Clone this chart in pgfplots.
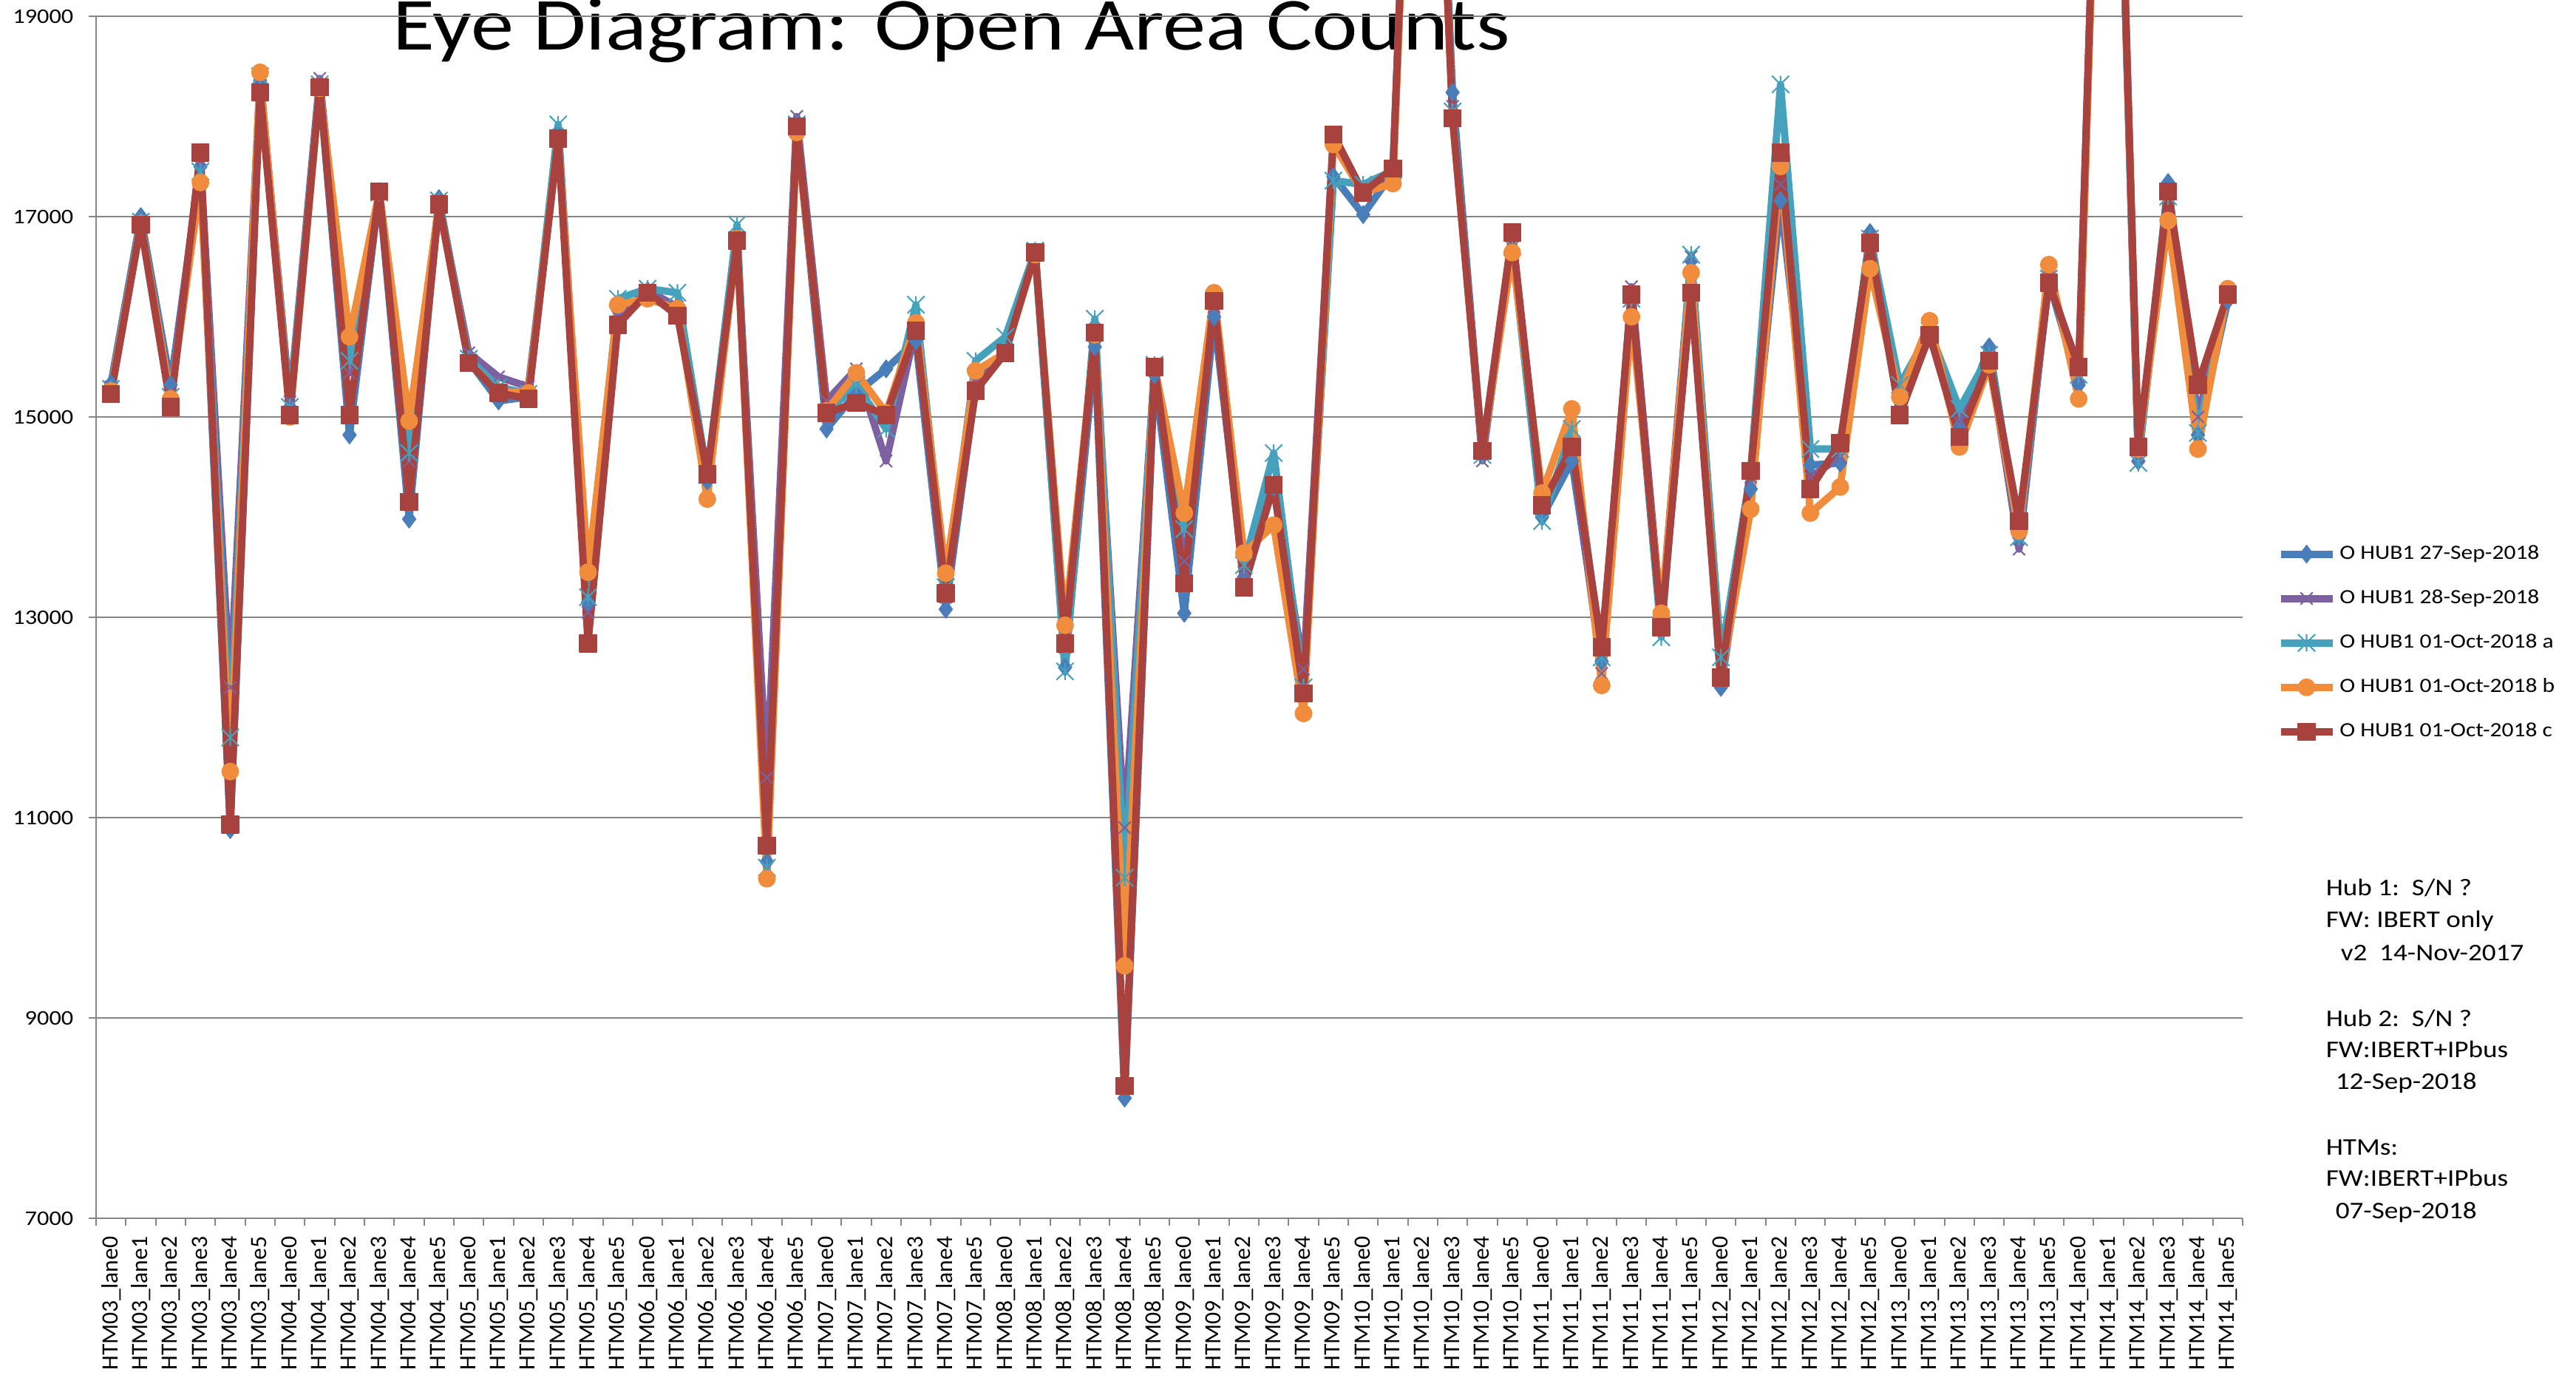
\documentclass[border=0pt]{standalone}
\usepackage{fontspec}
\setmainfont{Carlito}
\newfontfamily\wfont{Carlito}[FakeStretch=1.15]
\usepackage{pgfplots}
\usepackage{pgfplotstable}
\pgfplotsset{compat=1.18}

\definecolor{cBlue}{RGB}{74,126,187}
\definecolor{cPurple}{RGB}{125,96,160}
\definecolor{cTeal}{RGB}{70,162,188}
\definecolor{cOrange}{RGB}{240,140,60}
\definecolor{cRed}{RGB}{168,66,63}
\definecolor{cGrid}{RGB}{134,134,134}

\pgfdeclareplotmark{xstar}{%
  \pgfpathmoveto{\pgfqpoint{-\pgfplotmarksize}{-\pgfplotmarksize}}%
  \pgfpathlineto{\pgfqpoint{\pgfplotmarksize}{\pgfplotmarksize}}%
  \pgfpathmoveto{\pgfqpoint{-\pgfplotmarksize}{\pgfplotmarksize}}%
  \pgfpathlineto{\pgfqpoint{\pgfplotmarksize}{-\pgfplotmarksize}}%
  \pgfpathmoveto{\pgfqpoint{0pt}{-\pgfplotmarksize}}%
  \pgfpathlineto{\pgfqpoint{0pt}{\pgfplotmarksize}}%
  \pgfusepathqstroke}

\pgfplotstableread{
x b p t o r
0 15330 15300 15280 15260 15230
1 17000 16950 16950 16930 16920
2 15320 15250 15200 15180 15100
3 17500 17550 17450 17340 17640
4 10880 12300 11800 11460 10930
5 18360 18380 18400 18440 18240
6 15100 15150 15100 15000 15020
7 18300 18380 18320 18280 18290
8 14820 15440 15560 15800 15020
9 17250 17260 17240 17250 17250
10 13980 14560 14640 14960 14150
11 17180 17150 17160 17120 17120
12 15560 15640 15580 15540 15540
13 15160 15400 15300 15250 15240
14 15200 15300 15230 15240 15180
15 17820 17800 17920 17780 17780
16 13150 13050 13200 13450 12740
17 15960 16000 16180 16120 15920
18 16260 16260 16280 16180 16240
19 16060 16100 16240 16080 16010
20 14360 14400 14420 14180 14430
21 16800 16760 16920 16780 16760
22 10560 11400 10500 10390 10720
23 17900 18000 17920 17840 17900
24 14880 15160 15040 15060 15040
25 15240 15480 15320 15440 15140
26 15480 14560 14880 15040 15020
27 15760 15900 16120 15940 15860
28 13080 13200 13300 13440 13240
29 15300 15350 15560 15460 15260
30 15660 15660 15800 15640 15640
31 16650 16640 16660 16620 16640
32 12500 12700 12460 12920 12740
33 15700 15800 15980 15820 15840
34 8200 10900 10400 9520 8320
35 15420 15500 15520 15500 15500
36 13040 13560 13880 14040 13340
37 16000 16100 16180 16240 16160
38 13400 13450 13520 13640 13300
39 14300 14350 14640 13920 14320
40 12260 12480 12300 12040 12240
41 17400 17780 17360 17720 17820
42 17020 17200 17320 17240 17240
43 17440 17450 17460 17330 17480
44 25000 25000 25000 25000 25000
45 18240 18100 18050 17980 17980
46 14640 14560 14620 14660 14660
47 16820 16800 16700 16640 16840
48 14000 14100 13960 14240 14120
49 14560 14700 14880 15080 14700
50 12560 12440 12600 12320 12700
51 16200 16300 16180 16000 16220
52 12900 13000 12800 13040 12900
53 16560 16600 16620 16440 16240
54 12300 12400 12600 12400 12400
55 14280 14400 14460 14080 14460
56 17160 17320 18320 17500 17640
57 14520 14400 14680 14040 14280
58 14540 14600 14680 14300 14740
59 16840 16800 16780 16480 16740
60 15060 15100 15320 15200 15020
61 15820 15800 15860 15960 15820
62 14900 14950 15080 14700 14800
63 15700 15600 15620 15520 15560
64 13800 13680 13800 13860 13960
65 16360 16400 16380 16520 16340
66 15320 15400 15420 15180 15500
67 25000 25000 25000 25000 25000
68 14560 14600 14540 14680 14700
69 17340 17200 17200 16960 17250
70 14820 15000 14840 14680 15320
71 16160 16200 16220 16280 16220
}\eyedata

\begin{document}
\begin{tikzpicture}
\node[anchor=base west, font={\wfont\fontsize{28.8}{34}\selectfont}, inner sep=0pt] at (5.31,17.91) {Eye Diagram: Open Area Counts};
\begin{axis}[
  at={(1.30cm,2.11cm)}, anchor=south west,
  scale only axis, width=29.04cm, height=16.26cm,
  xmin=-0.5, xmax=71.5, ymin=7000, ymax=19000,
  clip=false,
  axis x line*=bottom, axis y line*=left,
  axis line style={cGrid, line width=0.7pt},
  ytick={7000,9000,...,19000},
  scaled y ticks=false,
  ymajorgrids, grid style={cGrid, line width=0.6pt},
  tick style={cGrid, line width=0.6pt}, tick align=outside, major tick length=1.0mm,
  xtick={-0.5,0.5,...,71.5},
  x tick label as interval,
  xticklabels={HTM03\_lane0,HTM03\_lane1,HTM03\_lane2,HTM03\_lane3,HTM03\_lane4,HTM03\_lane5,
    HTM04\_lane0,HTM04\_lane1,HTM04\_lane2,HTM04\_lane3,HTM04\_lane4,HTM04\_lane5,
    HTM05\_lane0,HTM05\_lane1,HTM05\_lane2,HTM05\_lane3,HTM05\_lane4,HTM05\_lane5,
    HTM06\_lane0,HTM06\_lane1,HTM06\_lane2,HTM06\_lane3,HTM06\_lane4,HTM06\_lane5,
    HTM07\_lane0,HTM07\_lane1,HTM07\_lane2,HTM07\_lane3,HTM07\_lane4,HTM07\_lane5,
    HTM08\_lane0,HTM08\_lane1,HTM08\_lane2,HTM08\_lane3,HTM08\_lane4,HTM08\_lane5,
    HTM09\_lane0,HTM09\_lane1,HTM09\_lane2,HTM09\_lane3,HTM09\_lane4,HTM09\_lane5,
    HTM10\_lane0,HTM10\_lane1,HTM10\_lane2,HTM10\_lane3,HTM10\_lane4,HTM10\_lane5,
    HTM11\_lane0,HTM11\_lane1,HTM11\_lane2,HTM11\_lane3,HTM11\_lane4,HTM11\_lane5,
    HTM12\_lane0,HTM12\_lane1,HTM12\_lane2,HTM12\_lane3,HTM12\_lane4,HTM12\_lane5,
    HTM13\_lane0,HTM13\_lane1,HTM13\_lane2,HTM13\_lane3,HTM13\_lane4,HTM13\_lane5,
    HTM14\_lane0,HTM14\_lane1,HTM14\_lane2,HTM14\_lane3,HTM14\_lane4,HTM14\_lane5},
  xticklabel style={yshift=-1.4mm, rotate=90, anchor=east, inner sep=0pt, font={\fontsize{9}{10}\selectfont}},
  yticklabel style={anchor=east, inner sep=0pt, xshift=-2.0mm, font={\wfont\fontsize{8}{9}\selectfont}},
  /pgf/number format/.cd, 1000 sep={}, assume math mode=true,
  /pgfplots/.cd,
  every axis plot/.append style={line width=2.8pt, line join=round},
  legend style={at={(axis description cs:1.0158,0.5634)}, anchor=north west, draw=none, fill=none,
    font={\wfont\fontsize{7.8}{9}\selectfont}, row sep=2.6mm, inner sep=0pt, nodes={inner sep=0.5mm}},
  legend cell align=left,
  legend image code/.code={\draw[#1, mark repeat=2, mark phase=2] plot coordinates {(0cm,0cm) (0.35cm,0cm) (0.7cm,0cm)};},
]
\addplot[cBlue, mark=diamond*, mark size=3.4pt, mark options={line width=0.4pt}] table[x=x,y=b]{\eyedata};
\addlegendentry{O HUB1 27-Sep-2018}
\addplot[cPurple, mark=x, mark size=3.3pt, mark options={line width=0.6pt}] table[x=x,y=p]{\eyedata};
\addlegendentry{O HUB1 28-Sep-2018}
\addplot[cTeal, mark=xstar, mark size=3.3pt, mark options={line width=0.6pt}] table[x=x,y=t]{\eyedata};
\addlegendentry{O HUB1 01-Oct-2018 a}
\addplot[cOrange, mark=*, mark size=3.2pt, mark options={line width=0.4pt}] table[x=x,y=o]{\eyedata};
\addlegendentry{O HUB1 01-Oct-2018 b}
\addplot[cRed, mark=square*, mark size=3.3pt, mark options={line width=0.4pt}] table[x=x,y=r]{\eyedata};
\addlegendentry{O HUB1 01-Oct-2018 c}
\end{axis}
\begin{scope}[every node/.style={anchor=base west, inner sep=0pt, font={\wfont\fontsize{9.2}{11}\selectfont}}]
\node at (31.46,6.47) {Hub 1:\ \ S/N ?};
\node at (31.46,6.04) {FW: IBERT only};
\node at (31.66,5.59) {v2\ \ 14-Nov-2017};
\node at (31.46,4.70) {Hub 2:\ \ S/N ?};
\node at (31.46,4.28) {FW:IBERT+IPbus};
\node at (31.59,3.85) {12-Sep-2018};
\node at (31.46,2.97) {HTMs:};
\node at (31.46,2.55) {FW:IBERT+IPbus};
\node at (31.59,2.11) {07-Sep-2018};
\end{scope}
\pgfresetboundingbox
\useasboundingbox (0,0) rectangle (34.85,18.59);
\end{tikzpicture}
\end{document}
